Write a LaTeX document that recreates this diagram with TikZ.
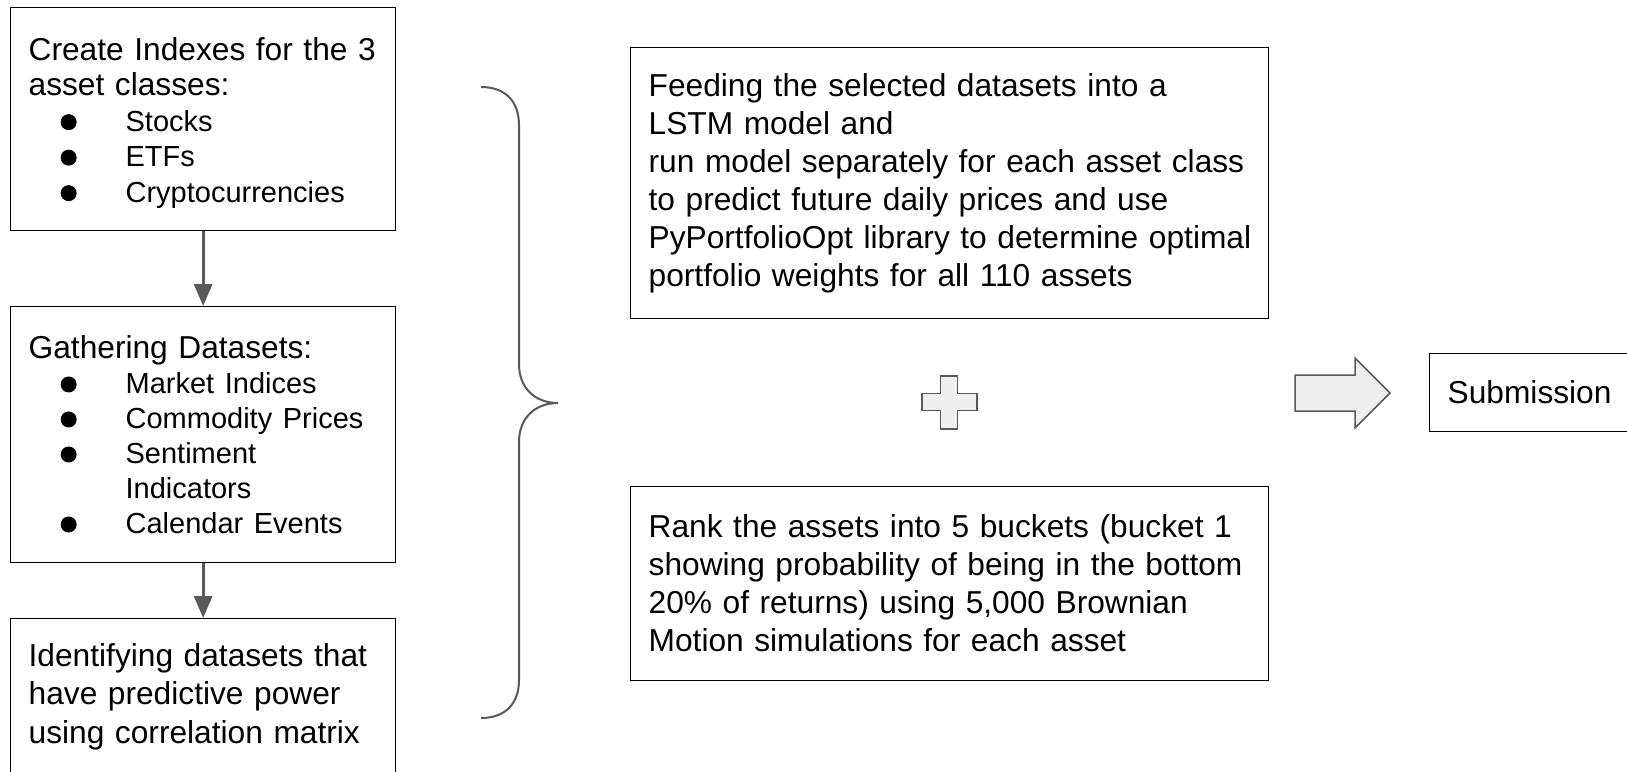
\documentclass[tikz,border=0pt]{standalone}
\usepackage{fontspec}
\setmainfont{Liberation Sans}
\usetikzlibrary{arrows.meta}
\definecolor{linegray}{HTML}{595959}
\definecolor{shapefill}{HTML}{EFEFEF}
% bullet of the lists
\newcommand{\listitem}[1]{\hspace*{32pt}\makebox[65pt][l]{\tikz[baseline=-9pt]\fill (0,0) circle (8pt);}{\fontsize{29}{35}\selectfont #1}}
\newcommand{\padded}[1]{\leftskip=18pt\relax #1\par}

\begin{document}
\begin{tikzpicture}[x=1pt, y=-1pt,
    box/.style={draw=black, line width=1.3pt, anchor=north west, inner sep=0pt,
      align=left, font=\fontsize{31.7}{35.5}\selectfont},
    flow/.style={draw=linegray, line width=3pt, -{Triangle[width=18pt,length=22pt]}},
    sign/.style={draw=linegray, fill=shapefill, line width=1.5pt, line join=miter}]
    \useasboundingbox (0,0) rectangle (1627,771);
    % Left column
    \node[box, text width=385pt, minimum height=223pt] (create) at (10,7)
      {\padded{\rule{0pt}{30pt}Create Indexes for the 3\\asset classes:\\
       \listitem{Stocks}\\\listitem{ETFs}\\\listitem{Cryptocurrencies}}};
    \node[box, text width=385pt, minimum height=256pt, font=\fontsize{31.7}{35}\selectfont] (gather) at (10,306)
      {\padded{Gathering Datasets:\\\listitem{Market Indices}\\\listitem{Commodity Prices}\\
       \listitem{Sentiment}\\\hspace*{97pt}{\fontsize{29}{35}\selectfont Indicators}\\\listitem{Calendar Events}}};
    \node[box, text width=385pt, minimum height=156pt, font=\fontsize{31.7}{38.5}\selectfont] (identify) at (10,618)
      {\padded{Identifying datasets that\\have predictive power\\using correlation matrix}};
    \draw[flow] (create.south) -- (gather.north);
    \draw[flow] (gather.south) -- (identify.north);
    % Brace
    \coordinate (bracetip) at (558,403);
    \draw[linegray, line width=2pt] (481,87) .. controls (505,87) and (519,101) .. (519,125)
      -- (519,364) .. controls (519,388) and (535,403) .. (bracetip)
      .. controls (535,403) and (519,418) .. (519,442)
      -- (519,680) .. controls (519,704) and (505,718) .. (481,718);
    % Right column
    \node[box, text width=638pt, minimum height=271pt, font=\fontsize{31.7}{38}\selectfont] (feed) at (630,47)
      {\padded{Feeding the selected datasets into a\\LSTM model and\\
       run model separately for each asset class\\to predict future daily prices and use\\
       PyPortfolioOpt library to determine optimal\\portfolio weights for all 110 assets}};
    \node[box, text width=638pt, minimum height=194pt, font=\fontsize{31.7}{38}\selectfont] (rank) at (630,486)
      {\padded{Rank the assets into 5 buckets (bucket 1\\showing probability of being in the bottom\\
       20\% of returns) using 5,000 Brownian\\Motion simulations for each asset}};
    % Plus sign
    \draw[sign] (940.5,376) -- (957.5,376) -- (957.5,393.5) -- (977,393.5) -- (977,410.5)
      -- (957.5,410.5) -- (957.5,429) -- (940.5,429) -- (940.5,410.5) -- (922,410.5)
      -- (922,393.5) -- (940.5,393.5) -- cycle;
    % Block arrow
    \draw[sign] (1295,375) -- (1355,375) -- (1355,358) -- (1390,393) -- (1355,428)
      -- (1355,411) -- (1295,411) -- cycle;
    \node[box, text width=211pt, minimum height=78pt] (submit) at (1429,353)
      {\padded{Submission}};
\end{tikzpicture}
\end{document}
